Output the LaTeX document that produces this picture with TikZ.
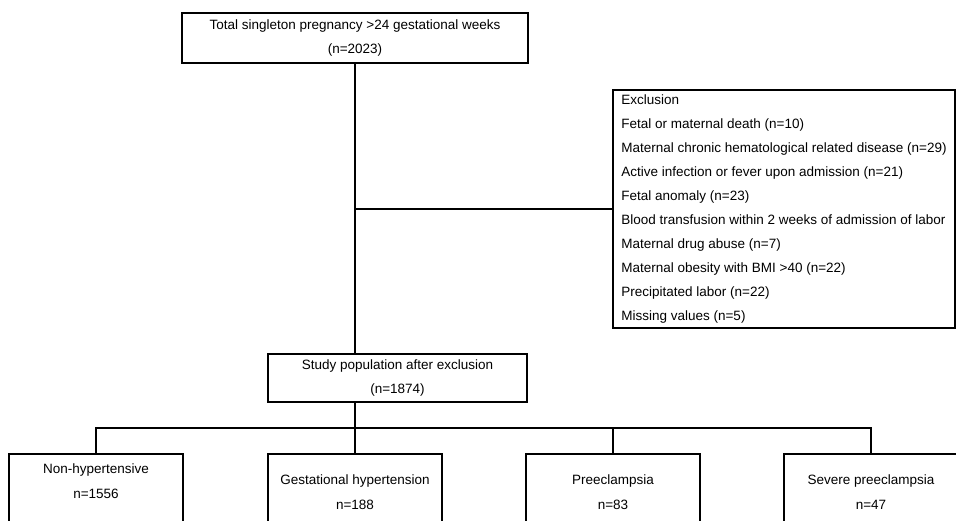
\documentclass[tikz,border=0pt]{standalone}
\usepackage{fontspec}
\setmainfont{Liberation Sans}
\usetikzlibrary{positioning}

\tikzset{
  box/.style={draw, line width=2pt, inner sep=0pt, align=center},
  leaf/.style={draw, line width=2pt, anchor=north, minimum width=174pt, minimum height=100pt},
  txt/.style={inner sep=0pt, align=center},
}

\begin{document}
\begin{tikzpicture}[x=1pt,y=-1pt,line width=2pt,font=\fontsize{13.5}{24.5}\selectfont]
    \useasboundingbox (0,0) rectangle (956,521);
    \clip (0,0) rectangle (956,521);
    \node[box,minimum width=346pt,minimum height=50pt] (top) at (355,38)
      {Total singleton pregnancy >24 gestational weeks\\(n=2023)};
    \node[box,minimum width=342pt,minimum height=238pt,font=\fontsize{13.5}{24}\selectfont,align=left] (excl) at (784,209)
      {Exclusion\\Fetal or maternal death (n=10)\\Maternal chronic hematological related disease (n=29)\\Active infection or fever upon admission (n=21)\\Fetal anomaly (n=23)\\Blood transfusion within 2 weeks of admission of labor\\Maternal drug abuse (n=7)\\Maternal obesity with BMI >40 (n=22)\\Precipitated labor (n=22)\\Missing values (n=5)};
    \node[box,minimum width=259pt,minimum height=48pt] (study) at (397.5,378)
      {Study population after exclusion\\(n=1874)};
    \foreach \x/\nm/\txt/\dy in {96/nonhyp/{Non-hypertensive\\n=1556}/10,
        355/gesthyp/{Gestational hypertension\\n=188}/21,
        613/preec/{Preeclampsia\\n=83}/21,
        871/sevpre/{Severe preeclampsia\\n=47}/21}{
      \node[leaf] (\nm) at (\x,453) {};
      \node[txt,below=\dy pt of \nm.north] (\nm-txt) {\txt};
    }
    \coordinate (split) at (355,428);
    \draw (top.south) -- (top.south |- study.north);
    \draw (top.south |- excl.west) -- (excl.west);
    \draw (top.south |- study.south) -- (split);
    \draw (nonhyp.north) |- (split) -| (sevpre.north);
    \draw (gesthyp.north) -- (split);
    \draw (preec.north) -- (preec.north |- split);
\end{tikzpicture}
\end{document}
